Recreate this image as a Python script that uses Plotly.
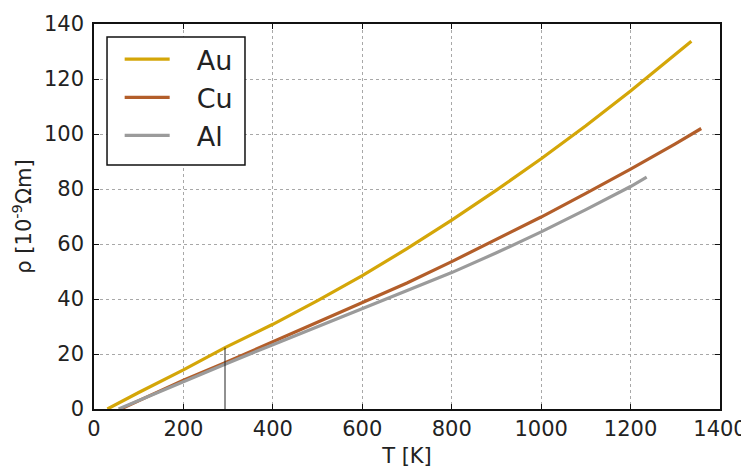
import numpy as np
import plotly.graph_objects as go

# Temperature [K] and resistivity [1e-9 Ohm m]
au_T = [30, 100, 200, 293, 400, 500, 600, 700, 800, 900, 1000, 1100, 1200, 1300, 1336]
au_rho = [0, 6.0, 14.2, 22.3, 30.8, 39.4, 48.5, 58.3, 68.7, 79.6, 91.0, 103.0, 115.6, 128.8, 133.7]

cu_T = [60, 200, 293, 400, 500, 600, 700, 800, 900, 1000, 1100, 1200, 1300, 1358]
cu_rho = [0, 10.5, 16.8, 24.4, 31.4, 38.4, 45.8, 53.6, 61.6, 69.8, 78.4, 87.2, 96.4, 102.0]

al_T = [55, 200, 293, 400, 500, 600, 700, 800, 900, 1000, 1100, 1200, 1236]
al_rho = [0, 10.0, 16.3, 23.4, 29.9, 36.4, 43.0, 49.6, 56.8, 64.4, 72.5, 80.9, 84.3]

room_T = 293
room_rho = float(np.interp(room_T, au_T, au_rho))

x_ticks = [0, 200, 400, 600, 800, 1000, 1200, 1400]
y_ticks = [0, 20, 40, 60, 80, 100, 120, 140]

colors = {"Au": "#d4a608", "Cu": "#b35e2a", "Al": "#9b9b9b"}

pad = "\u2002\u00a0"

fig = go.Figure()
for name, T, rho in [("Au", au_T, au_rho), ("Cu", cu_T, cu_rho), ("Al", al_T, al_rho)]:
    fig.add_trace(go.Scatter(x=T, y=rho, mode="lines", name=pad + name,
                             legendgroup=name,
                             line=dict(color=colors[name], width=3.2)))

fig.add_trace(go.Scatter(x=[room_T, room_T], y=[0, room_rho], mode="lines",
                         line=dict(color="#222222", width=1), showlegend=False, hoverinfo="skip"))

font_family = "DejaVu Sans"
axis_common = dict(showline=True, linecolor="#111111", linewidth=1.5, mirror="ticks",
                   ticks="inside", ticklen=5, tickwidth=1, tickcolor="#111111",
                   showgrid=True, gridcolor="#a8a8a8", griddash="dot", gridwidth=1,
                   zeroline=False, automargin=False,
                   tickfont=dict(family=font_family, size=21, color="#222222"))

# legend frame (paper coords)
fig.add_shape(type="rect", xref="paper", yref="paper",
              x0=0.0208, x1=0.2412, y0=0.634, y1=0.966,
              fillcolor="white", line=dict(color="#111111", width=1.5), layer="above")

fig.update_layout(
    width=741, height=460,
    margin=dict(l=86, r=29, t=16, b=59),
    paper_bgcolor="white", plot_bgcolor="white",
    font=dict(family=font_family, color="#222222"),
    xaxis=dict(range=[0, 1400], tickvals=x_ticks, ticktext=[str(v) for v in x_ticks],
               ticklabelstandoff=0,
               title=dict(text="T [K]", font=dict(size=21), standoff=8), **axis_common),
    yaxis=dict(range=[0, 140], tickvals=y_ticks, ticktext=[str(v) for v in y_ticks],
               ticklabelstandoff=4,
               title=dict(text="ρ [10<sup>-9</sup>Ωm]", font=dict(size=21), standoff=16), **axis_common),
    legend=dict(x=0.041, y=0.971, xanchor="left", yanchor="top",
                bgcolor="rgba(0,0,0,0)", borderwidth=0,
                font=dict(family=font_family, size=27, color="#222222"),
                itemwidth=45, tracegroupgap=0),
    showlegend=True,
)

fig.write_html("out.html")
